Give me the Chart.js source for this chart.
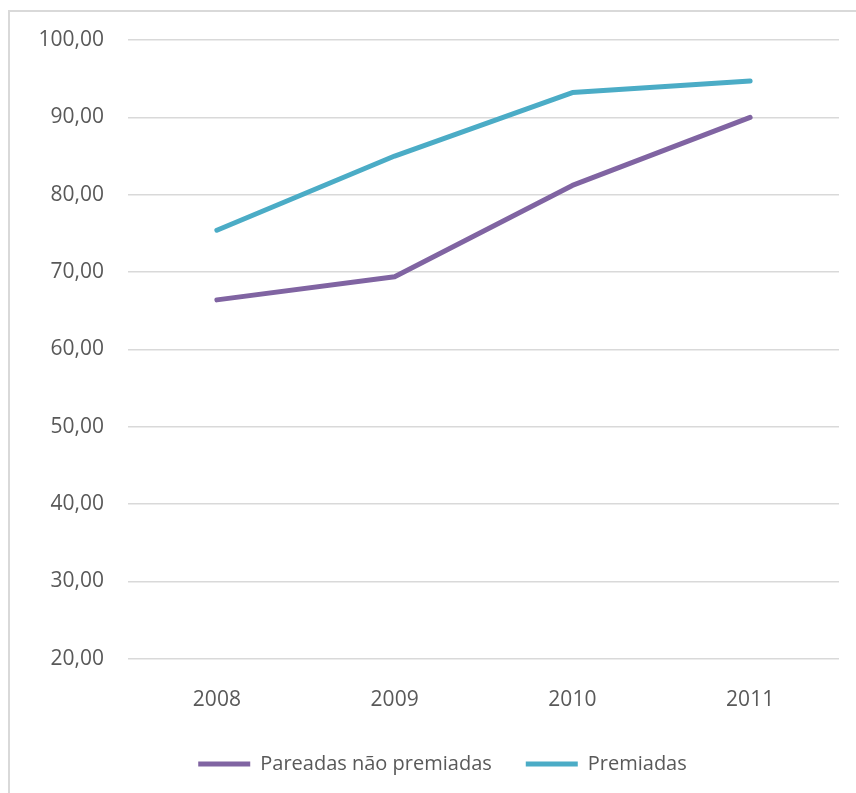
<!DOCTYPE html>
<html>
<head>
<meta charset="utf-8">
<script src="https://cdn.jsdelivr.net/npm/chart.js@4/dist/chart.umd.min.js"></script>
<style>
  html, body { margin: 0; padding: 0; background: #ffffff; overflow: hidden; }
  #frame { position: absolute; left: 8px; top: 10px; width: 900px; height: 900px;
           border: 2px solid #d9d9d9; box-sizing: border-box; }
  #wrap { position: absolute; left: 0; top: 0; width: 856px; height: 793px; }
</style>
</head>
<body>
<div id="frame"></div>
<div id="wrap"><canvas id="chart" width="856" height="793"></canvas></div>
<script>
const years = ['2008', '2009', '2010', '2011'];
const pareadasNaoPremiadas = [66.4, 69.4, 81.2, 90.0];
const premiadas = [75.4, 85.0, 93.2, 94.7];
const seriesNames = ['Pareadas não premiadas', 'Premiadas'];

const textColor = '#595959';
const fontFamily = '"Open Sans", "Noto Sans", sans-serif';

// Shift the legend block right so it sits centred under the plot area.
const legendShift = {
  id: 'legendShift',
  afterLayout(chart) {
    const lg = chart.legend;
    if (lg) { lg.left += 46; }
  }
};

new Chart(document.getElementById('chart'), {
  type: 'line',
  data: {
    labels: years,
    datasets: [
      {
        label: seriesNames[0],
        data: pareadasNaoPremiadas,
        borderColor: '#8064a2',
        backgroundColor: '#8064a2',
        borderWidth: 5,
        borderCapStyle: 'round',
        borderJoinStyle: 'round',
        pointRadius: 0,
        tension: 0
      },
      {
        label: seriesNames[1],
        data: premiadas,
        borderColor: '#4bacc6',
        backgroundColor: '#4bacc6',
        borderWidth: 5,
        borderCapStyle: 'round',
        borderJoinStyle: 'round',
        pointRadius: 0,
        tension: 0
      }
    ]
  },
  plugins: [legendShift],
  options: {
    responsive: false,
    animation: false,
    layout: { padding: { top: 40, right: 17, bottom: 9, left: 0 } },
    plugins: {
      tooltip: { enabled: false },
      legend: {
        position: 'bottom',
        labels: {
          usePointStyle: true,
          pointStyle: 'line',
          pointStyleWidth: 52,
          color: textColor,
          font: { family: fontFamily, size: 20 },
          padding: 34
        }
      }
    },
    scales: {
      x: {
        offset: true,
        grid: { display: false, drawTicks: false },
        border: { display: false },
        afterFit: (scale) => { scale.height -= 22; },
        ticks: { color: textColor, font: { family: fontFamily, size: 21 }, padding: 29, maxRotation: 0 }
      },
      y: {
        min: 20,
        max: 100,
        afterFit: (scale) => { scale.width = 128; },
        grid: { color: '#d9d9d9', lineWidth: 1.5, drawTicks: false },
        border: { display: false },
        ticks: {
          stepSize: 10,
          color: textColor,
          font: { family: fontFamily, size: 21 },
          padding: 24,
          callback: (v) => v.toFixed(2).replace('.', ',')
        }
      }
    }
  }
});
</script>
</body>
</html>
